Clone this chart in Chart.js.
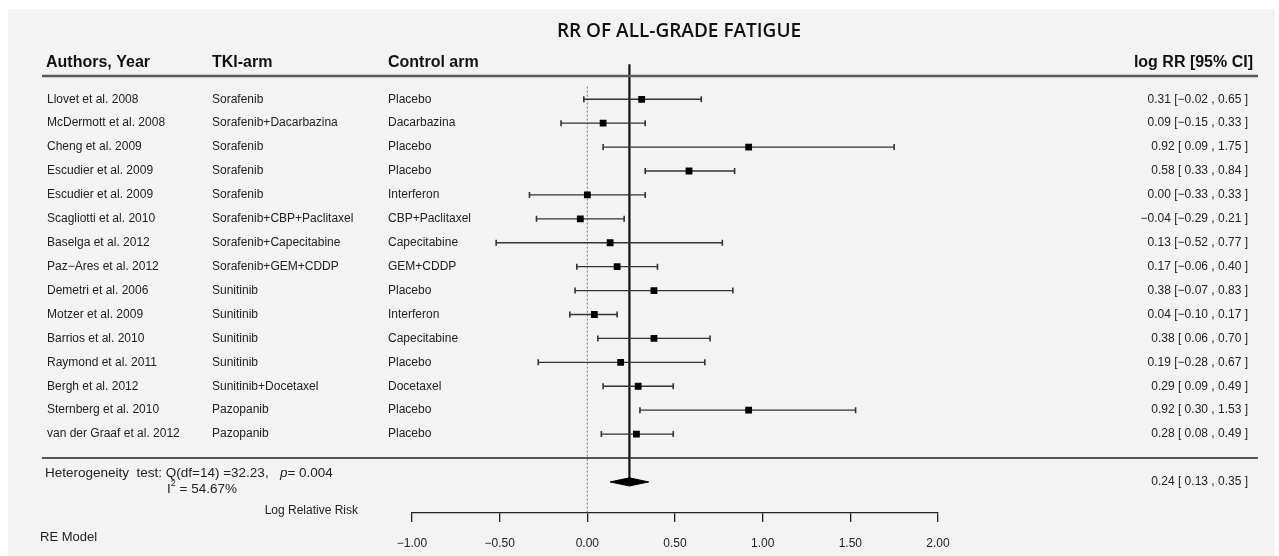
<!DOCTYPE html>
<html lang="en">
<head>
  <meta charset="UTF-8">
  <title>RR of all-grade fatigue</title>
  <script src="https://cdn.jsdelivr.net/npm/chart.js@4.4.4/dist/chart.umd.min.js"></script>
  <style>
    html, body { margin: 0; padding: 0; background: #ffffff; }
    canvas { display: block; }
  </style>
</head>
<body>
  <canvas id="forest" width="1279" height="556"></canvas>
  <script>
    // study rows, top to bottom
    const authors = [
      "Llovet et al. 2008", "McDermott et al. 2008", "Cheng et al. 2009", "Escudier et al. 2009",
      "Escudier et al. 2009", "Scagliotti et al. 2010", "Baselga et al. 2012", "Paz\u2212Ares et al. 2012",
      "Demetri et al. 2006", "Motzer et al. 2009", "Barrios et al. 2010", "Raymond et al. 2011",
      "Bergh et al. 2012", "Sternberg et al. 2010", "van der Graaf et al. 2012"
    ];
    const tkiArm = [
      "Sorafenib", "Sorafenib+Dacarbazina", "Sorafenib", "Sorafenib", "Sorafenib",
      "Sorafenib+CBP+Paclitaxel", "Sorafenib+Capecitabine", "Sorafenib+GEM+CDDP",
      "Sunitinib", "Sunitinib", "Sunitinib", "Sunitinib", "Sunitinib+Docetaxel",
      "Pazopanib", "Pazopanib"
    ];
    const controlArm = [
      "Placebo", "Dacarbazina", "Placebo", "Placebo", "Interferon", "CBP+Paclitaxel",
      "Capecitabine", "GEM+CDDP", "Placebo", "Interferon", "Capecitabine", "Placebo",
      "Docetaxel", "Placebo", "Placebo"
    ];
    const logRR = [0.31, 0.09, 0.92, 0.58, 0.00, -0.04, 0.13, 0.17, 0.38, 0.04, 0.38, 0.19, 0.29, 0.92, 0.28];
    const ciLow = [-0.02, -0.15, 0.09, 0.33, -0.33, -0.29, -0.52, -0.06, -0.07, -0.10, 0.06, -0.28, 0.09, 0.30, 0.08];
    const ciHigh = [0.65, 0.33, 1.75, 0.84, 0.33, 0.21, 0.77, 0.40, 0.83, 0.17, 0.70, 0.67, 0.49, 1.53, 0.49];

    // random effects summary
    const pooled = { est: 0.24, lo: 0.13, hi: 0.35 };
    const heterogeneity = { df: 14, q: "32.23", p: "0.004", i2: "54.67%" };

    const axisTicks = [-1.00, -0.50, 0.00, 0.50, 1.00, 1.50, 2.00];

    const FONT = "'Liberation Sans', Arial, sans-serif";
    const rows = authors.map((_, i) => i + 1);
    const summaryRow = authors.length + 2;

    function num(v) {
      return (v < 0 ? "\u2212" : "") + Math.abs(v).toFixed(2);
    }
    function ciText(est, lo, hi) {
      const l = lo < 0 ? num(lo) : " " + num(lo);
      return num(est) + " [" + l + " , " + num(hi) + " ]";
    }

    // whiskers: one line dataset broken with null points
    const whiskerData = [];
    rows.forEach((r, i) => {
      whiskerData.push({ x: ciLow[i], y: r }, { x: ciHigh[i], y: r }, { x: null, y: null });
    });

    const diamondH = 0.17;
    const diamondData = [
      { x: pooled.lo, y: summaryRow },
      { x: pooled.est, y: summaryRow - diamondH },
      { x: pooled.hi, y: summaryRow },
      { x: pooled.est, y: summaryRow + diamondH },
      { x: pooled.lo, y: summaryRow }
    ];

    const decorations = {
      id: 'decorations',
      beforeDraw(chart) {
        const ctx = chart.ctx;
        ctx.save();
        ctx.fillStyle = '#f3f3f3';
        ctx.fillRect(8, 9, chart.width - 12, chart.height - 9);
        ctx.restore();
      },
      afterDraw(chart) {
        const ctx = chart.ctx;
        const y = chart.scales.y;
        ctx.save();

        // title
        ctx.fillStyle = '#111';
        ctx.font = "600 19px 'Open Sans', sans-serif";
        ctx.textAlign = 'center';
        ctx.textBaseline = 'middle';
        ctx.fillText('RR OF ALL-GRADE FATIGUE', 679, 32);

        // column headers
        ctx.font = 'bold 16px ' + FONT;
        ctx.textAlign = 'left';
        ctx.fillText('Authors, Year', 46, 62.5);
        ctx.fillText('TKI-arm', 212, 62.5);
        ctx.fillText('Control arm', 388, 62.5);
        ctx.textAlign = 'right';
        ctx.fillText('log RR [95% CI]', 1253, 62.5);

        // header rule and summary separator
        ctx.strokeStyle = '#5a5a5a';
        ctx.lineWidth = 2.5;
        ctx.beginPath();
        ctx.moveTo(42, 76); ctx.lineTo(1258, 76);
        ctx.stroke();
        ctx.strokeStyle = '#222';
        ctx.lineWidth = 1.3;
        const sepY = y.getPixelForValue(authors.length + 1);
        ctx.beginPath();
        ctx.moveTo(42, sepY); ctx.lineTo(1258, sepY);
        ctx.stroke();

        // study rows
        ctx.font = '12px ' + FONT;
        ctx.fillStyle = '#222';
        rows.forEach((r, i) => {
          const py = y.getPixelForValue(r);
          ctx.textAlign = 'left';
          ctx.fillText(authors[i], 47, py);
          ctx.fillText(tkiArm[i], 212, py);
          ctx.fillText(controlArm[i], 388, py);
          ctx.textAlign = 'right';
          ctx.fillText(ciText(logRR[i], ciLow[i], ciHigh[i]), 1248, py);
        });

        // summary row
        const sy = y.getPixelForValue(summaryRow);
        ctx.textAlign = 'right';
        ctx.fillText(ciText(pooled.est, pooled.lo, pooled.hi), 1248, sy);

        ctx.font = '13.5px ' + FONT;
        ctx.textAlign = 'left';
        let tx = 45;
        const hy = sy - 9;
        const part1 = 'Heterogeneity  test: Q(df=' + heterogeneity.df + ') =' + heterogeneity.q + ',   ';
        ctx.fillText(part1, tx, hy);
        tx += ctx.measureText(part1).width;
        ctx.font = 'italic 13.5px ' + FONT;
        ctx.fillText('p', tx, hy);
        tx += ctx.measureText('p').width;
        ctx.font = '13.5px ' + FONT;
        ctx.fillText('= ' + heterogeneity.p, tx, hy);

        let ix = 167;
        const iy = sy + 7;
        ctx.fillText('I', ix, iy);
        ix += ctx.measureText('I').width;
        ctx.font = '9px ' + FONT;
        ctx.fillText('2', ix, iy - 5);
        ix += ctx.measureText('2').width;
        ctx.font = '13.5px ' + FONT;
        ctx.fillText(' = ' + heterogeneity.i2, ix, iy);

        ctx.font = '12px ' + FONT;
        ctx.textAlign = 'right';
        ctx.fillText('Log Relative Risk', 358, 511);
        ctx.textAlign = 'left';
        ctx.font = '13px ' + FONT;
        ctx.fillText('RE Model', 40, 537);

        ctx.restore();
      }
    };

    const config = {
      type: 'scatter',
      data: {
        datasets: [
          {
            label: 'estimate',
            data: rows.map((r, i) => ({ x: logRR[i], y: r })),
            pointStyle: 'rect',
            pointRadius: 4.8,
            backgroundColor: '#000',
            borderWidth: 0,
            order: 1
          },
          {
            label: 'pooled',
            data: diamondData,
            showLine: true,
            fill: 'shape',
            backgroundColor: '#000',
            borderColor: '#000',
            borderWidth: 1,
            pointRadius: 0,
            tension: 0,
            order: 2
          },
          {
            label: 'ci',
            data: whiskerData,
            showLine: true,
            spanGaps: false,
            borderColor: '#333',
            borderWidth: 1.3,
            pointStyle: 'line',
            pointRotation: 90,
            pointRadius: 3,
            pointBorderWidth: 1.6,
            pointBorderColor: '#333',
            order: 3
          },
          {
            label: 'summary line',
            data: [{ x: pooled.est, y: -0.46 }, { x: pooled.est, y: summaryRow }],
            showLine: true,
            borderColor: '#111',
            borderWidth: 2.2,
            pointRadius: 0,
            order: 4
          },
          {
            label: 'no effect',
            data: [{ x: 0, y: 0.47 }, { x: 0, y: 18.3 }],
            showLine: true,
            borderColor: '#777',
            borderWidth: 1,
            borderDash: [2, 2],
            pointRadius: 0,
            order: 5
          }
        ]
      },
      options: {
        responsive: false,
        animation: false,
        layout: { padding: { left: 412, right: 341, top: 63.4, bottom: 0 } },
        plugins: {
          legend: { display: false },
          tooltip: { enabled: false }
        },
        scales: {
          x: {
            type: 'linear',
            min: axisTicks[0],
            max: axisTicks[axisTicks.length - 1],
            afterBuildTicks: (s) => { s.ticks = axisTicks.map(v => ({ value: v })); },
            afterFit: (s) => { s.height = 43; },
            grid: { drawOnChartArea: false, drawTicks: true, tickLength: 9, color: '#222', lineWidth: 1.3 },
            border: { display: true, color: '#222', width: 1.3 },
            ticks: {
              padding: 14,
              color: '#222',
              font: { size: 12, family: FONT },
              maxRotation: 0,
              callback: (v) => num(v)
            }
          },
          y: {
            type: 'linear',
            display: false,
            reverse: true,
            min: -0.5,
            max: 18.3
          }
        }
      },
      plugins: [decorations]
    };

    new Chart(document.getElementById('forest'), config);
  </script>
</body>
</html>
